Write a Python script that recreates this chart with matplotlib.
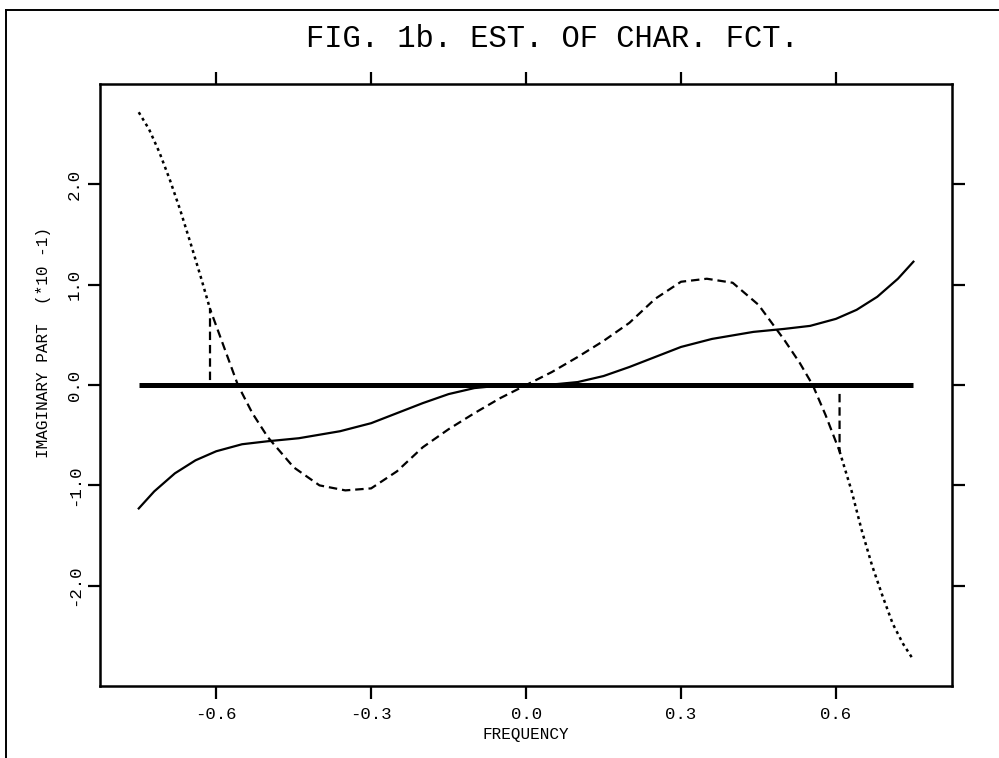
import matplotlib.pyplot as plt
from matplotlib.lines import Line2D

plt.rcParams['font.family'] = ['Liberation Mono', 'DejaVu Sans Mono']

# zero reference line
zero_x = [-0.75, 0.75]
zero_y = [0.0, 0.0]

# solid curve
solid_x = [-0.75, -0.72, -0.68, -0.64, -0.6, -0.55, -0.5, -0.44, -0.36, -0.3, -0.25,
           -0.2, -0.15, -0.1, -0.06, 0.0, 0.06, 0.1, 0.15, 0.2, 0.25, 0.3, 0.36,
           0.44, 0.5, 0.55, 0.6, 0.64, 0.68, 0.72, 0.75]
solid_y = [-1.23, -1.06, -0.88, -0.75, -0.66, -0.59, -0.56, -0.53, -0.46, -0.38, -0.28,
           -0.18, -0.09, -0.03, -0.01, 0.0, 0.01, 0.03, 0.09, 0.18, 0.28, 0.38, 0.46,
           0.53, 0.56, 0.59, 0.66, 0.75, 0.88, 1.06, 1.23]

# dashed curve (with the vertical joins at both ends)
dash_x = [-0.612, -0.612, -0.585, -0.558, -0.53, -0.5, -0.45, -0.4, -0.35, -0.3,
          -0.25, -0.2, -0.15, -0.1, -0.05, 0.0, 0.05, 0.1, 0.15, 0.2, 0.25, 0.3,
          0.35, 0.4, 0.45, 0.5, 0.53, 0.555, 0.58, 0.607, 0.607]
dash_y = [0.05, 0.76, 0.38, 0.0, -0.28, -0.52, -0.82, -1.0, -1.05, -1.03,
          -0.86, -0.62, -0.44, -0.28, -0.13, 0.0, 0.13, 0.28, 0.44, 0.62, 0.86, 1.03,
          1.06, 1.02, 0.8, 0.45, 0.22, 0.0, -0.3, -0.66, -0.04]

# dotted tails
dot_left_x = [-0.75, -0.73, -0.71, -0.69, -0.67, -0.65, -0.63, -0.612]
dot_left_y = [2.72, 2.55, 2.32, 2.05, 1.75, 1.42, 1.08, 0.76]
dot_right_x = [0.607, 0.63, 0.65, 0.67, 0.69, 0.71, 0.73, 0.75]
dot_right_y = [-0.66, -1.05, -1.45, -1.8, -2.1, -2.38, -2.58, -2.74]

xticks = [-0.6, -0.3, 0.0, 0.3, 0.6]
xtick_labels = ['-0.6', '-0.3', '0.0', '0.3', '0.6']
yticks = [-2.0, -1.0, 0.0, 1.0, 2.0]
ytick_labels = ['-2.0', '-1.0', '0.0', '1.0', '2.0']

fig = plt.figure(figsize=(9.99, 7.58), dpi=100)
ax = fig.add_axes([0.1001, 0.095, 0.853, 0.794])

ax.plot(zero_x, zero_y, color='black', lw=3.6, solid_capstyle='butt')
ax.plot(solid_x, solid_y, color='black', lw=1.6)
ax.plot(dash_x, dash_y, color='black', lw=1.6, dashes=(3.8, 2.2))
ax.plot(dot_left_x, dot_left_y, color='black', lw=1.8, dashes=(1.2, 1.5))
ax.plot(dot_right_x, dot_right_y, color='black', lw=1.8, dashes=(1.2, 1.5))

ax.set_xlim(-0.825, 0.825)
ax.set_ylim(-3.0, 3.0)

ax.set_xticks(xticks)
ax.set_xticklabels(xtick_labels, fontsize=12.5)
ax.set_yticks(yticks)
ax.set_yticklabels(ytick_labels, fontsize=12.5, rotation=90, va='center')
ax.tick_params(direction='out', length=9, width=1.6, top=True, right=True,
               labeltop=False, labelright=False)
ax.tick_params(axis='x', pad=6)
ax.tick_params(axis='y', pad=4)
for s in ax.spines.values():
    s.set_linewidth(1.8)

ax.set_xlabel('FREQUENCY', fontsize=11.5, labelpad=4)
ax.set_ylabel('IMAGINARY PART  (*10 -1)', fontsize=11.5)
ax.yaxis.set_label_coords(-0.058, 0.57)

fig.text(0.553, 0.948, 'FIG. 1b. EST. OF CHAR. FCT.', fontsize=22,
         ha='center', va='center')

# outer frame (left and top edges)
fig.add_artist(Line2D([0.006, 0.006], [0.0, 0.987], color='black', lw=1.4))
fig.add_artist(Line2D([0.006, 1.0], [0.987, 0.987], color='black', lw=1.4))

fig.savefig('out.png', dpi=100)
